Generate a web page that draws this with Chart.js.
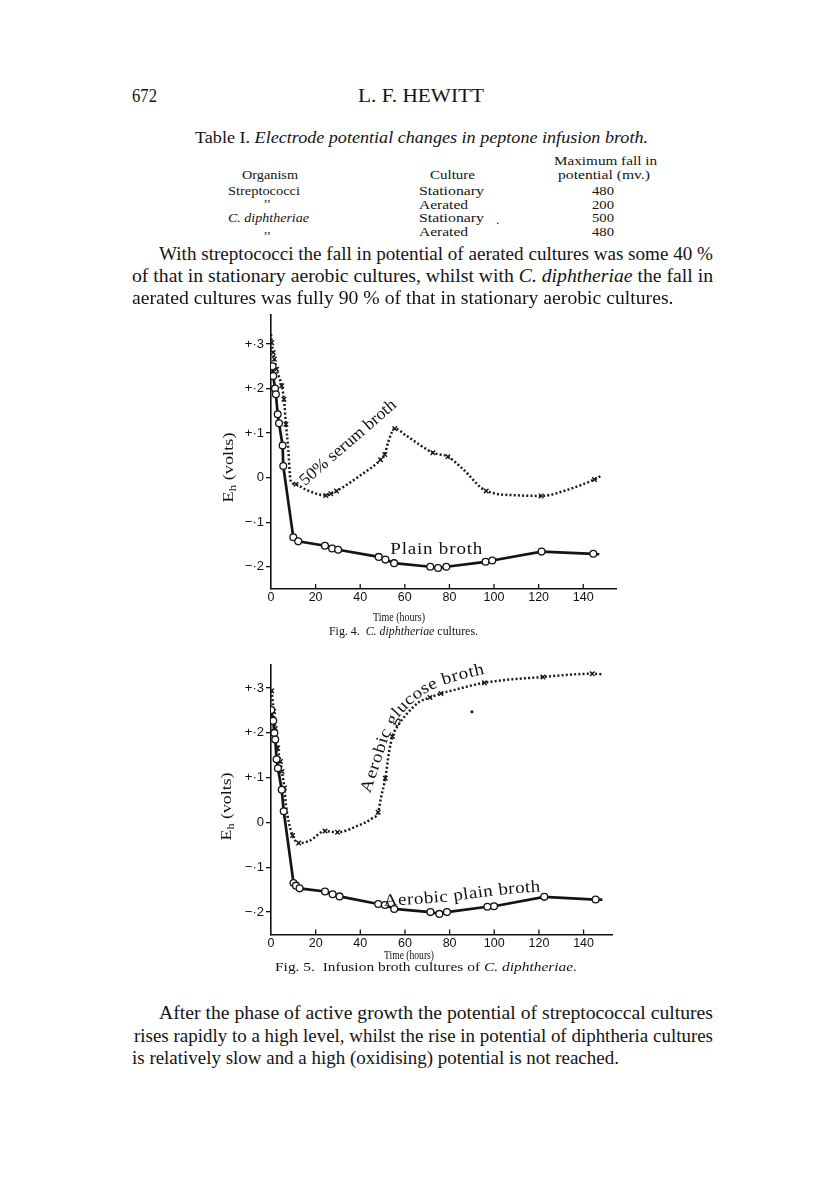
<!DOCTYPE html>
<html><head><meta charset="utf-8">
<script src="https://cdn.jsdelivr.net/npm/chart.js@4.4.1/dist/chart.umd.min.js"></script>
<style>
html,body{margin:0;padding:0;background:#fff;}
#page{position:relative;width:816px;height:1195px;overflow:hidden;background:#fff;color:#141414;font-family:"Liberation Serif","DejaVu Serif",serif;}
.t{position:absolute;white-space:nowrap;line-height:1;transform-origin:0 50%;}
.t sub{font-size:0.7em;vertical-align:-0.25em;line-height:0;}
.cv{position:absolute;}
</style></head><body><div id="page">
<div class="cv" style="left:190px;top:305px;"><canvas id="fig4" width="432" height="314"></canvas></div>
<div class="cv" style="left:190px;top:655px;"><canvas id="fig5" width="428" height="310"></canvas></div>
</div>
<script>
// ---------- DATA ----------
const xTickValues = [0, 20, 40, 60, 80, 100, 120, 140];
const yTickValues = [-0.2, -0.1, 0, 0.1, 0.2, 0.3];
const yTickLabels = ['\u2212\u00b72', '\u2212\u00b71', '0', '+\u00b71', '+\u00b72', '+\u00b73'];

// Fig. 4  Plain broth (open circles)
const fig4PlainHours = [0.7, 1.0, 1.8, 2.2, 3.0, 3.6, 5.2, 5.5, 10.0, 12.2, 24.2, 27.4, 30.1, 48.3, 51.3, 55.2, 71.4, 74.9, 78.6, 96.2, 99.2, 121.3, 144.5, 147.2];
const fig4PlainVolts = [0.25, 0.228, 0.2, 0.187, 0.142, 0.122, 0.072, 0.026, -0.134, -0.143, -0.153, -0.159, -0.162, -0.178, -0.184, -0.192, -0.2, -0.203, -0.2, -0.189, -0.186, -0.166, -0.171, -0.172];
const fig4PlainMarked = [1,1,1,1,1,1,1,1,1,1,1,1,1,1,1,1,1,1,1,1,1,1,1,0];

// Fig. 4  50% serum broth (crosses, dotted)
const fig4SerumHours = [0, 0.3, 1.0, 1.5, 2.5, 4.8, 5.8, 6.7, 7.8, 8.6, 9.5, 11.2, 16.0, 24.6, 26.8, 29.4, 39.8, 49.1, 51.0, 52.5, 55.5, 60.7, 72.6, 79.3, 86.1, 96.5, 111.4, 121.1, 133.8, 145.0, 148];
const fig4SerumVolts = [0.322, 0.303, 0.281, 0.266, 0.243, 0.206, 0.176, 0.12, 0.06, 0.0, -0.012, -0.015, -0.028, -0.04, -0.036, -0.03, 0.004, 0.04, 0.052, 0.079, 0.11, 0.094, 0.056, 0.047, 0.019, -0.03, -0.04, -0.041, -0.026, -0.004, 0.004];
const fig4SerumMarked = [0,1,1,1,1,1,1,1,0,0,0,1,0,1,1,1,0,1,1,0,1,0,1,1,0,1,0,1,0,1,0];

// Fig. 5  Aerobic plain broth (open circles)
const fig5PlainHours = [0.1, 1.0, 1.5, 1.9, 2.5, 3.1, 4.8, 5.7, 10.1, 11.2, 12.8, 24.2, 27.6, 30.7, 48.0, 51.0, 55.2, 71.4, 75.4, 78.8, 96.9, 99.9, 122.4, 145.4, 148.4];
const fig5PlainVolts = [0.251, 0.227, 0.2, 0.185, 0.141, 0.121, 0.073, 0.025, -0.135, -0.141, -0.147, -0.154, -0.16, -0.165, -0.182, -0.184, -0.193, -0.2, -0.204, -0.2, -0.188, -0.187, -0.166, -0.172, -0.172];
const fig5PlainMarked = [1,1,1,1,1,1,1,1,1,1,1,1,1,1,1,1,1,1,1,1,1,1,1,1,0];

// Fig. 5  Aerobic glucose broth (crosses, dotted)
const fig5GlucoseHours = [0.3, 0.7, 1.2, 1.9, 3.0, 4.2, 4.9, 6.0, 6.7, 7.9, 9.7, 12.4, 17.2, 24.2, 29.8, 38.0, 45.5, 48.0, 49.2, 51.2, 52.9, 54.4, 57.1, 60.4, 66.4, 71.2, 76.1, 81.4, 95.6, 121.8, 143.9, 148.4];
const fig5GlucoseVolts = [0.294, 0.274, 0.248, 0.21, 0.166, 0.136, 0.114, 0.077, 0.039, 0.002, -0.029, -0.046, -0.041, -0.019, -0.022, -0.009, 0.01, 0.023, 0.054, 0.099, 0.158, 0.192, 0.218, 0.24, 0.269, 0.279, 0.288, 0.295, 0.312, 0.325, 0.332, 0.331];
const fig5GlucoseMarked = [1,0,1,1,1,1,1,1,0,0,1,1,0,1,1,0,0,1,0,1,0,1,0,0,0,1,1,0,1,1,1,0];

// Fig. 5  isolated printed dot
const fig5DotHours = [90];
const fig5DotVolts = [0.247];

// ---------- PAGE TEXT ----------
const page = document.getElementById('page');
function T(html, x, yc, size, w, st, k) {
  const d = document.createElement('div');
  d.className = 't'; d.innerHTML = html;
  d.style.fontSize = size + 'px';
  d.style.left = x + 'px';
  d.style.top = (yc - size * 0.5) + 'px';
  if (st) Object.assign(d.style, st);
  page.appendChild(d);
  let f = k || 1;
  if (w) { const nw = d.getBoundingClientRect().width; f = w / nw; }
  d.style.transform = 'scaleX(' + f + ')';
  return f;
}
function R(html, cx, cy, size, len) {
  const d = document.createElement('div');
  d.className = 't'; d.innerHTML = html; d.style.fontSize = size + 'px';
  page.appendChild(d);
  const r = d.getBoundingClientRect();
  d.style.left = (cx - r.width / 2) + 'px'; d.style.top = (cy - r.height / 2) + 'px';
  d.style.transformOrigin = '50% 50%';
  d.style.transform = 'rotate(-90deg) scaleX(' + (len / r.width) + ')';
}

T('672', 132, 96, 18, 25);
T('L. F. HEWITT', 358, 96, 18, 126);
T('Table I. <i>Electrode potential changes in peptone infusion broth.</i>', 195, 138, 16.5, 453);
T('Maximum fall in', 554, 160, 13, 103);
T('Organism', 242, 174, 13, 56);
T('Culture', 430, 174, 13, 45);
T('potential (mv.)', 558, 174, 13, 92);
T('Streptococci', 228, 190, 13, 72);
T('Stationary', 419, 190, 13, 65);
T('480', 592, 190, 13, 22);
T(',,', 264, 196, 13);
T('Aerated', 419, 204, 13, 49);
T('200', 592, 204, 13, 22);
T('<i>C. diphtheriae</i>', 228, 217, 13, 81);
T('Stationary', 419, 217, 13, 65);
T('.', 496, 219, 13);
T('500', 592, 217, 13, 22);
T(',,', 264, 228, 13);
T('Aerated', 419, 231, 13, 49);
T('480', 592, 231, 13, 22);

T('With streptococci the fall in potential of aerated cultures was some 40 %', 158.7, 253, 19, 554);
const k1 = T('of that in stationary aerobic cultures, whilst with <i>C. diphtheriae</i> the fall in', 132, 275, 19, 581);
T('aerated cultures was fully 90 % of that in stationary aerobic cultures.', 132, 297, 19, null, null, k1);

T('Time (hours)', 373, 617, 12.5, 52);
T('Fig. 4.&nbsp;&nbsp;<i>C. diphtheriae</i> cultures.', 329, 631, 12.5, 149);
T('Time (hours)', 384, 955, 12.5, 50);
T('Fig. 5.&nbsp;&nbsp;Infusion broth cultures of <i>C. diphtheriae.</i>', 275, 967, 12.5, 302);

T('After the phase of active growth the potential of streptococcal cultures', 158.7, 1012, 19, 554);
const k2 = T('rises rapidly to a high level, whilst the rise in potential of diphtheria cultures', 134, 1035, 19, 579);
T('is relatively slow and a high (oxidising) potential is not reached.', 132, 1057, 19, null, null, k2);

R('E<sub>h</sub> (volts)', 229, 467, 15, 70);
R('E<sub>h</sub> (volts)', 227, 806, 15, 68);

// ---------- CHART HELPERS ----------
function pts(xs, ys) { return xs.map((v, i) => ({ x: v, y: ys[i] })); }

function drawTextOnPath(ctx, text, p, size, family) {
  ctx.save();
  ctx.fillStyle = '#141414';
  ctx.font = size + 'px ' + family;
  const chars = [...text];
  let widths = chars.map(c => ctx.measureText(c).width);
  let nat = widths.reduce((a, b) => a + b, 0);
  const cum = [0];
  for (let i = 1; i < p.length; i++) cum.push(cum[i - 1] + Math.hypot(p[i][0] - p[i - 1][0], p[i][1] - p[i - 1][1]));
  const total = cum[cum.length - 1];
  let k = total / nat;
  if (k < 1) { size *= k; ctx.font = size + 'px ' + family; widths = widths.map(w => w * k); k = 1; }
  const sx = Math.min(k, 1.12);
  ctx.textAlign = 'center'; ctx.textBaseline = 'middle';
  let s = 0;
  chars.forEach((c, i) => {
    const adv = widths[i] * k;
    const m = s + adv / 2;
    let j = 1; while (j < cum.length - 1 && cum[j] < m) j++;
    const t = (m - cum[j - 1]) / (cum[j] - cum[j - 1]);
    const px = p[j - 1][0] + t * (p[j][0] - p[j - 1][0]);
    const py = p[j - 1][1] + t * (p[j][1] - p[j - 1][1]);
    const ang = Math.atan2(p[j][1] - p[j - 1][1], p[j][0] - p[j - 1][0]);
    ctx.save(); ctx.translate(px, py); ctx.rotate(ang); ctx.scale(sx, 1);
    ctx.fillText(c, 0, 0); ctx.restore();
    s += adv;
  });
  ctx.restore();
}

const curveLabels = {
  id: 'curveLabels',
  afterDatasetsDraw(chart, args, opts) {
    const { ctx, scales: { x, y } } = chart;
    (opts.items || []).forEach(it => {
      const p = it.path.map(q => [x.getPixelForValue(q[0]), y.getPixelForValue(q[1])]);
      drawTextOnPath(ctx, it.text, p, it.size, '"Liberation Serif", "DejaVu Serif", serif');
    });
  }
};

const innerTicks = {
  id: 'innerTicks',
  afterDraw(chart) {
    const { ctx, scales: { x }, chartArea } = chart;
    ctx.save(); ctx.strokeStyle = '#111'; ctx.lineWidth = 1.3;
    x.ticks.forEach(t => {
      if (t.value === 0) return;
      const px = x.getPixelForValue(t.value);
      ctx.beginPath(); ctx.moveTo(px, chartArea.bottom); ctx.lineTo(px, chartArea.bottom - 5); ctx.stroke();
    });
    ctx.restore();
  }
};

function plainDataset(xs, ys, marked) {
  return { data: pts(xs, ys), borderColor: '#141414', borderWidth: 2.7, tension: 0,
    pointStyle: 'circle', pointRadius: c => marked[c.dataIndex] ? 3.4 : 0,
    pointBackgroundColor: '#fff', pointBorderColor: '#141414', pointBorderWidth: 1.3, order: 1 };
}
function dottedDataset(xs, ys, marked) {
  return { data: pts(xs, ys), borderColor: '#1a1a1a', borderWidth: 2.5, borderDash: [2, 2.2],
    cubicInterpolationMode: 'monotone', pointStyle: 'crossRot',
    pointRadius: c => marked[c.dataIndex] ? 3.2 : 0,
    pointBorderColor: '#1a1a1a', pointBackgroundColor: '#1a1a1a', pointBorderWidth: 1.4, order: 2 };
}

function makeChart(id, datasets, o) {
  return new Chart(document.getElementById(id), {
    type: 'line',
    data: { datasets },
    options: {
      responsive: false, animation: false, devicePixelRatio: 1,
      layout: { padding: { top: o.padTop, right: o.padRight, left: 0, bottom: 0 } },
      plugins: { legend: { display: false }, tooltip: { enabled: false }, curveLabels: { items: o.labels } },
      scales: {
        x: { type: 'linear', min: 0, max: o.xMax,
          afterBuildTicks: s => { s.ticks = xTickValues.map(v => ({ value: v })); },
          afterFit: s => { s.height = o.xAxisH; },
          grid: { drawOnChartArea: false, drawTicks: false },
          border: { color: '#111', width: 1.6 },
          ticks: { color: '#111', font: { family: '"Liberation Sans", Arial, sans-serif', size: 12.5 }, padding: o.xPad,
            maxRotation: 0, autoSkip: false, callback: (v, i) => String(xTickValues[i]) } },
        y: { type: 'linear', min: o.yMin, max: o.yMax,
          afterBuildTicks: s => { s.ticks = yTickValues.map(v => ({ value: v })); },
          afterFit: s => { s.width = 81; },
          grid: { drawOnChartArea: false, drawTicks: true, tickLength: 5, color: '#111', lineWidth: 1.3 },
          border: { color: '#111', width: 1.6 },
          ticks: { color: '#111', font: { family: '"Liberation Sans", Arial, sans-serif', size: 13 }, padding: 2,
            autoSkip: false, callback: (v, i) => yTickLabels[i] } }
      }
    },
    plugins: [innerTicks, curveLabels]
  });
}

makeChart('fig4', [
  plainDataset(fig4PlainHours, fig4PlainVolts, fig4PlainMarked),
  dottedDataset(fig4SerumHours, fig4SerumVolts, fig4SerumMarked)
], { xMax: 155, yMin: -0.25, yMax: 0.365, padTop: 10, padRight: 4.5, xAxisH: 30, xPad: 1,
  labels: [
    { text: '50% serum broth', path: [[13.9, -0.012], [55.3, 0.168]], size: 17 },
    { text: 'Plain broth', path: [[53.2, -0.1625], [95, -0.1625]], size: 17 }
  ] });

makeChart('fig5', [
  plainDataset(fig5PlainHours, fig5PlainVolts, fig5PlainMarked),
  dottedDataset(fig5GlucoseHours, fig5GlucoseVolts, fig5GlucoseMarked),
  { data: pts(fig5DotHours, fig5DotVolts), showLine: false, pointRadius: 1.6, pointBackgroundColor: '#222', pointBorderWidth: 0, order: 3 }
], { xMax: 153, yMin: -0.25, yMax: 0.352, padTop: 9.5, padRight: 5, xAxisH: 30.5, xPad: 2,
  labels: [
    { text: 'Aerobic glucose broth', path: [[42.3, 0.066], [47.2, 0.138], [50.8, 0.194], [55.7, 0.241], [61.8, 0.273], [68.4, 0.298], [75.0, 0.315], [84.6, 0.329], [95.5, 0.342]], size: 17 },
    { text: 'Aerobic plain broth', path: [[50.3, -0.176], [65.2, -0.172], [80.1, -0.166], [95.0, -0.156], [106.9, -0.149], [120.7, -0.144]], size: 17 }
  ] });
</script>
</body></html>
